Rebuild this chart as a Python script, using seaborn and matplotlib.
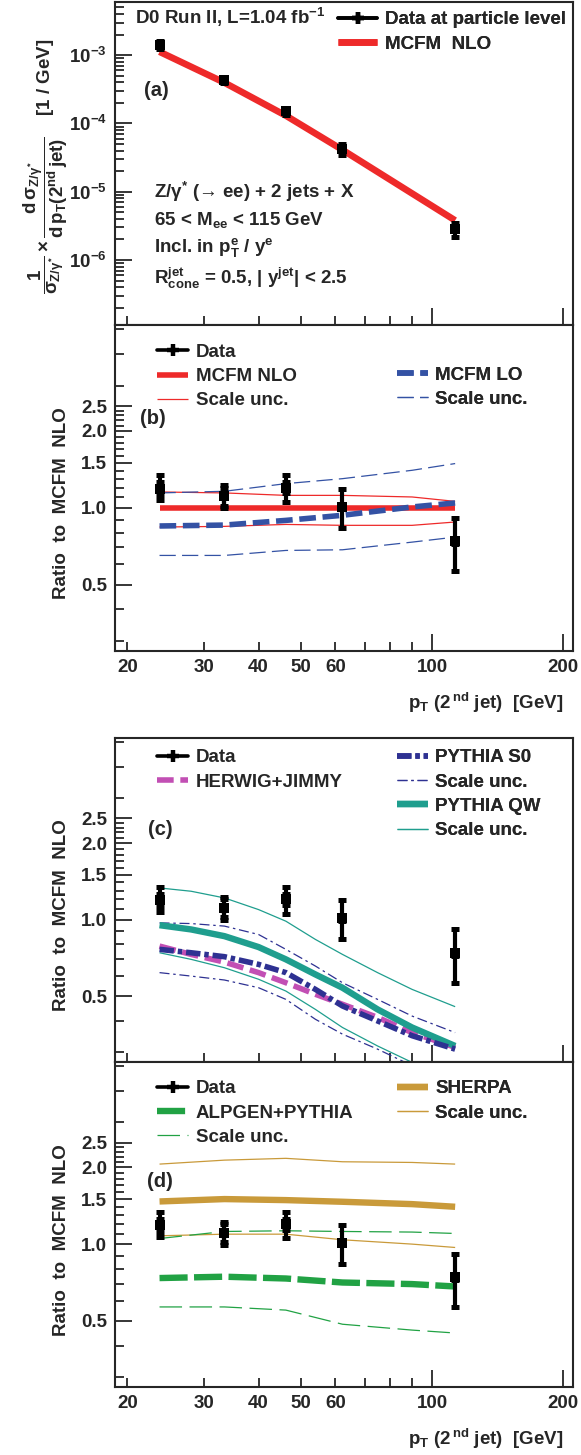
import numpy as np
import matplotlib
matplotlib.use("Agg")
import matplotlib.pyplot as plt
from matplotlib.lines import Line2D
from matplotlib.legend_handler import HandlerTuple
from matplotlib.ticker import FixedLocator, FixedFormatter, NullFormatter
import seaborn as sns

# ========== DATA ==========
pt_data = [23.7, 33.4, 46.2, 62.3, 113.0]
pt_coarse = [23.7, 33.4, 46.2, 62.3, 90.0, 113.0]
pt_fine = [23.7, 28.0, 33.4, 40.0, 46.2, 54.0, 62.3, 75.0, 90.0, 113.0]

# (a) normalised cross section [1/GeV]
xsec_data = [1.43e-3, 4.3e-4, 1.51e-4, 4.2e-5, 2.8e-6]
xsec_lo = [1.22e-3, 3.87e-4, 1.33e-4, 3.5e-5, 2.15e-6]
xsec_hi = [1.63e-3, 4.7e-4, 1.69e-4, 4.95e-5, 3.45e-6]
xsec_nlo = [1.12e-3, 3.95e-4, 1.30e-4, 4.1e-5, 3.8e-6]

# data / MCFM NLO
ratio_data = [1.19, 1.11, 1.20, 1.01, 0.74]
ratio_err_lo = [0.12, 0.115, 0.145, 0.175, 0.175]
ratio_err_hi = [0.15, 0.115, 0.14, 0.18, 0.175]
ratio_stat = [0.07, 0.09, 0.06, 0.02, 0.02]

# (b) MCFM
nlo = [1.0, 1.0, 1.0, 1.0, 1.0, 1.0]
nlo_up = [1.154, 1.144, 1.119, 1.119, 1.103, 1.06]
nlo_dn = [0.841, 0.846, 0.861, 0.854, 0.854, 0.88]
lo = [0.849, 0.856, 0.893, 0.935, 1.008, 1.045]
lo_up = [1.144, 1.161, 1.244, 1.301, 1.403, 1.491]
lo_dn = [0.651, 0.651, 0.681, 0.685, 0.734, 0.768]

# (c) HERWIG / PYTHIA
herwig = [0.786, 0.729, 0.68, 0.618, 0.564, 0.508, 0.464, 0.412, 0.359, 0.314]
s0 = [0.763, 0.74, 0.714, 0.666, 0.618, 0.531, 0.457, 0.399, 0.349, 0.309]
s0_up = [0.97, 0.964, 0.942, 0.873, 0.763, 0.656, 0.564, 0.485, 0.417, 0.359]
s0_dn = [0.618, 0.599, 0.578, 0.539, 0.485, 0.405, 0.354, 0.309, 0.266, 0.229]
qw = [0.95, 0.914, 0.86, 0.779, 0.697, 0.608, 0.539, 0.443, 0.376, 0.318]
qw_up = [1.331, 1.292, 1.216, 1.094, 0.985, 0.835, 0.729, 0.618, 0.531, 0.454]
qw_dn = [0.74, 0.697, 0.646, 0.582, 0.523, 0.443, 0.376, 0.318, 0.274, 0.229]

# (d) ALPGEN / SHERPA
sherpa = [1.47, 1.502, 1.488, 1.466, 1.435, 1.401]
sherpa_up = [2.06, 2.135, 2.17, 2.104, 2.091, 2.06]
sherpa_dn = [1.078, 1.094, 1.094, 1.04, 1.0, 0.97]
alpgen = [0.736, 0.745, 0.733, 0.707, 0.697, 0.682]
alpgen_up = [1.052, 1.121, 1.128, 1.121, 1.115, 1.101]
alpgen_dn = [0.567, 0.567, 0.551, 0.485, 0.46, 0.448]

x_major = [100, 200]
x_minor = [20, 30, 40, 50, 60, 70, 80, 90]
x_minor_labels = ["20", "30", "40", "50", "60", "", "", ""]
r_major = [0.5, 1.0, 1.5, 2.0, 2.5]
r_major_labels = ["0.5", "1.0", "1.5", "2.0", "2.5"]
r_minor = [0.3, 0.4, 0.6, 0.7, 0.8, 0.9, 1.1, 1.2, 1.3, 1.4, 1.6, 1.7, 1.8, 1.9,
           2.1, 2.2, 2.3, 2.4, 3.0, 4.0, 5.0]

# ========== STYLE ==========
sns.set_style("ticks")
plt.rcParams["font.family"] = ["Liberation Sans", "DejaVu Sans"]
plt.rcParams["font.weight"] = "bold"
plt.rcParams["axes.labelweight"] = "bold"
plt.rcParams["mathtext.fontset"] = "custom"
plt.rcParams["mathtext.rm"] = "Liberation Sans:bold"
plt.rcParams["mathtext.it"] = "Liberation Sans:bold"
plt.rcParams["mathtext.bf"] = "Liberation Sans:bold"
plt.rcParams["mathtext.sf"] = "Liberation Sans:bold"
plt.rcParams["axes.linewidth"] = 1.5

FS = 13.5
RED = "#ee2a2a"
BLUE = "#3452a4"
NAVY = "#2e3192"
MAGENTA = "#c24fb4"
TEAL = "#1f9e8e"
GREEN = "#21a244"
GOLD = "#c99a3a"
THICK = 4.0
THIN = 0.9

XLIM = (18.7, 210.6)
RLIM = (0.275, 5.18)


def curve(ax, x, y, color, lw, dashes=None, z=2):
    sns.lineplot(x=x, y=y, ax=ax, color=color, linewidth=lw, estimator=None,
                 sort=False, legend=False, zorder=z)
    line = ax.lines[-1]
    if dashes is not None:
        line.set_dashes(dashes)
    line.set_solid_capstyle("butt")
    line.set_dash_capstyle("butt")
    return line


def draw_data(ax, y, lo, hi, stat=None):
    ax.errorbar(pt_data, y, yerr=[lo, hi], fmt="none", ecolor="black",
                elinewidth=3.0, capsize=2.9, capthick=3.6, zorder=10)
    if stat is not None:
        ax.errorbar(pt_data, y, yerr=stat, fmt="none", ecolor="black",
                    elinewidth=3.0, capsize=2.9, capthick=3.6, zorder=10)
    sns.scatterplot(x=pt_data, y=y, ax=ax, marker="s", s=42, color="black",
                    edgecolor="black", linewidth=0, zorder=11, legend=False)


def data_handle():
    return (Line2D([], [], color="black", lw=2.6),
            Line2D([], [], color="black", marker="+", ms=9, mew=3.2, ls="none"))


def place_legend(ax, handles, labels, x, ytop, hl=1.65):
    leg = ax.legend(handles, labels, loc="upper left", bbox_to_anchor=(x, ytop),
                    frameon=False, borderpad=0, borderaxespad=0, fontsize=FS,
                    handlelength=hl, handletextpad=0.4, labelspacing=0.38,
                    handler_map={tuple: HandlerTuple(ndivide=1)})
    ax.add_artist(leg)
    return leg


def style_x(ax, labels):
    ax.set_xscale("log")
    ax.set_xlim(*XLIM)
    ax.xaxis.set_major_locator(FixedLocator(x_major))
    ax.xaxis.set_minor_locator(FixedLocator(x_minor))
    if labels:
        ax.xaxis.set_major_formatter(FixedFormatter(["100", "200"]))
        ax.xaxis.set_minor_formatter(FixedFormatter(x_minor_labels))
    else:
        ax.xaxis.set_major_formatter(NullFormatter())
        ax.xaxis.set_minor_formatter(NullFormatter())


def style_ticks(ax):
    ax.tick_params(which="major", direction="in", length=12, width=1.3,
                   top=False, right=False, labelsize=FS, pad=5.5)
    ax.tick_params(which="minor", direction="in", length=6.5, width=1.3,
                   top=False, right=False, labelsize=FS, pad=5.5)
    for s in ax.spines.values():
        s.set_linewidth(1.5)
        s.set_visible(True)


def style_ratio(ax, xlabels):
    style_x(ax, xlabels)
    ax.set_yscale("log")
    ax.set_ylim(*RLIM)
    ax.yaxis.set_major_locator(FixedLocator(r_major))
    ax.yaxis.set_major_formatter(FixedFormatter(r_major_labels))
    ax.yaxis.set_minor_locator(FixedLocator(r_minor))
    ax.yaxis.set_minor_formatter(NullFormatter())
    style_ticks(ax)
    ax.set_ylabel("Ratio  to  MCFM  NLO", fontsize=FS)
    ax.yaxis.set_label_coords(-0.098, 0.453)
    if xlabels:
        ax.set_xlabel(r"p$_{T}$ (2$^{\,nd}$ jet)  [GeV]", fontsize=FS,
                      ha="right", va="baseline")
        ax.xaxis.set_label_coords(0.98, -0.178)


fig = plt.figure(figsize=(5.81, 14.55), dpi=100)
L, W = 0.1974, 0.7888
ax_a = fig.add_axes([L, 0.7763, W, 0.2220])
ax_b = fig.add_axes([L, 0.5526, W, 0.2237])
ax_c = fig.add_axes([L, 0.2701, W, 0.2227])
ax_d = fig.add_axes([L, 0.0467, W, 0.2234])

# ---------- (a) ----------
l_nlo_a = curve(ax_a, pt_data, xsec_nlo, RED, 4.8)
draw_data(ax_a, xsec_data, np.subtract(xsec_data, xsec_lo), np.subtract(xsec_hi, xsec_data))
style_x(ax_a, False)
ax_a.set_yscale("log")
ax_a.set_ylim(1.1e-7, 5.9e-3)
ax_a.yaxis.set_major_locator(FixedLocator([1e-7, 1e-6, 1e-5, 1e-4, 1e-3]))
ax_a.yaxis.set_major_formatter(FixedFormatter(["", r"$10^{-6}$", r"$10^{-5}$", r"$10^{-4}$", r"$10^{-3}$"]))
minors = [m * 10.0 ** e for e in range(-7, -2) for m in range(2, 10)]
ax_a.yaxis.set_minor_locator(FixedLocator(minors))
ax_a.yaxis.set_minor_formatter(NullFormatter())
style_ticks(ax_a)
ax_a.set_ylabel(r"$\dfrac{1}{\sigma_{Z/\gamma^{*}}}\times\dfrac{d\,\sigma_{Z/\gamma^{*}}}{d\,p_{T}(2^{nd}\,jet)}$    [1 / GeV]",
                fontsize=FS)
ax_a.yaxis.set_label_coords(-0.098, 0.494)
ax_a.text(0.0443, 0.955, r"D0 Run II, L=1.04 fb$^{-1}$", transform=ax_a.transAxes,
          fontsize=FS, va="center", ha="left")
place_legend(ax_a, [data_handle(), l_nlo_a], ["Data at particle level", "MCFM  NLO"],
             0.4875, 0.9725, hl=2.1)
ax_a.text(0.0648, 0.7266, "(a)", transform=ax_a.transAxes, fontsize=FS + 1, va="center")
info = [r"Z/γ$^{*}$ (→ ee) + 2 jets + X",
        r"65 < M$_{ee}$ < 115 GeV",
        r"Incl. in p$_{T}^{e}$ / y$^{e}$",
        r"R$_{cone}^{jet}$ = 0.5, | y$^{jet}$| < 2.5"]
for txt, yy in zip(info, [0.414, 0.3266, 0.240, 0.147]):
    ax_a.text(0.0851, yy, txt, transform=ax_a.transAxes, fontsize=FS, va="center")

# ---------- (b) ----------
l_nlo = curve(ax_b, pt_coarse, nlo, RED, THICK, z=2)
l_nlo_s = curve(ax_b, pt_coarse, nlo_up, RED, THIN, z=2)
curve(ax_b, pt_coarse, nlo_dn, RED, THIN, z=2)
l_lo = curve(ax_b, pt_coarse, lo, BLUE, THICK, dashes=(3, 1.2), z=3)
l_lo_s = curve(ax_b, pt_coarse, lo_up, BLUE, THIN, dashes=(13, 5), z=3)
curve(ax_b, pt_coarse, lo_dn, BLUE, THIN, dashes=(13, 5), z=3)
draw_data(ax_b, ratio_data, ratio_err_lo, ratio_err_hi, ratio_stat)
style_ratio(ax_b, True)
place_legend(ax_b, [data_handle(), l_nlo, l_nlo_s], ["Data", "MCFM NLO", "Scale unc."], 0.0932, 0.944)
place_legend(ax_b, [l_lo, l_lo_s], ["MCFM LO", "Scale unc."], 0.616, 0.874)
ax_b.text(0.055, 0.715, "(b)", transform=ax_b.transAxes, fontsize=FS + 1, va="center")

# ---------- (c) ----------
l_s0_s = curve(ax_c, pt_fine, s0_up, NAVY, THIN, dashes=(8, 3, 2, 3))
curve(ax_c, pt_fine, s0_dn, NAVY, THIN, dashes=(8, 3, 2, 3))
l_qw_s = curve(ax_c, pt_fine, qw_up, TEAL, THIN)
curve(ax_c, pt_fine, qw_dn, TEAL, THIN)
l_hw = curve(ax_c, pt_fine, herwig, MAGENTA, THICK, dashes=(3, 1.2), z=3)
l_qw = curve(ax_c, pt_fine, qw, TEAL, THICK + 0.6, z=3)
l_s0 = curve(ax_c, pt_fine, s0, NAVY, THICK, dashes=(2.6, 0.7, 0.8, 0.7), z=4)
draw_data(ax_c, ratio_data, ratio_err_lo, ratio_err_hi, ratio_stat)
style_ratio(ax_c, False)
place_legend(ax_c, [data_handle(), l_hw], ["Data", "HERWIG+JIMMY"], 0.0932, 0.965)
place_legend(ax_c, [l_s0, l_s0_s, l_qw, l_qw_s],
             ["PYTHIA S0", "Scale unc.", "PYTHIA QW", "Scale unc."], 0.616, 0.965)
ax_c.text(0.0727, 0.718, "(c)", transform=ax_c.transAxes, fontsize=FS + 1, va="center")

# ---------- (d) ----------
l_sh = curve(ax_d, pt_coarse, sherpa, GOLD, THICK + 0.6)
l_sh_s = curve(ax_d, pt_coarse, sherpa_up, GOLD, THIN)
curve(ax_d, pt_coarse, sherpa_dn, GOLD, THIN)
l_al = curve(ax_d, pt_coarse, alpgen, GREEN, THICK + 0.6, dashes=(4.4, 1.0))
l_al_s = curve(ax_d, pt_coarse, alpgen_up, GREEN, THIN, dashes=(18, 6))
curve(ax_d, pt_coarse, alpgen_dn, GREEN, THIN, dashes=(18, 6))
draw_data(ax_d, ratio_data, ratio_err_lo, ratio_err_hi, ratio_stat)
style_ratio(ax_d, True)
place_legend(ax_d, [data_handle(), l_al, l_al_s], ["Data", "ALPGEN+PYTHIA", "Scale unc."], 0.0932, 0.944)
place_legend(ax_d, [l_sh, l_sh_s], ["SHERPA", "Scale unc."], 0.616, 0.944)
ax_d.text(0.0705, 0.632, "(d)", transform=ax_d.transAxes, fontsize=FS + 1, va="center")

for ax in (ax_a, ax_b, ax_c, ax_d):
    for t in ax.get_xticklabels(which="both") + ax.get_yticklabels(which="both"):
        t.set_fontweight("bold")

fig.savefig("out.png", dpi=100)
